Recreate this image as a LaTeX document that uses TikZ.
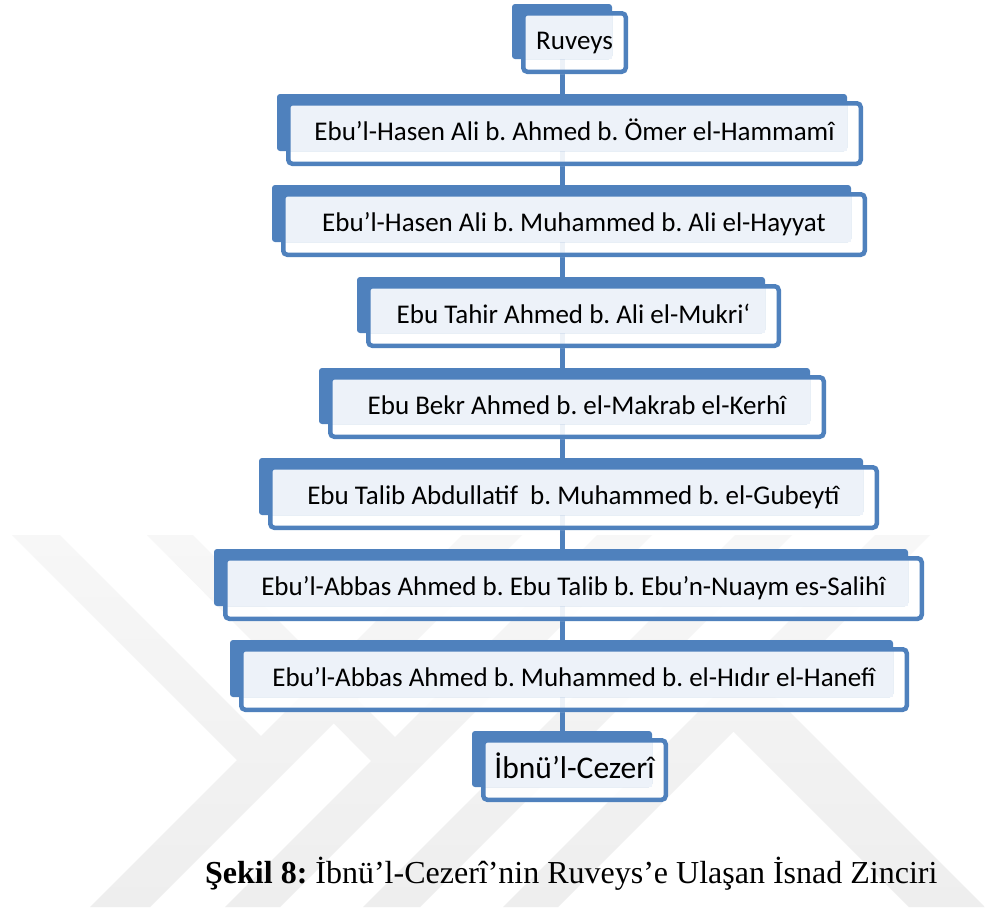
\documentclass[tikz,border=0pt]{standalone}
\usepackage{fontspec}
\setmainfont{Liberation Serif}
\newfontfamily\carlito{Carlito}
\frenchspacing
\definecolor{isblue}{HTML}{4F81BD}
\definecolor{islight}{HTML}{EDF2F9}
\definecolor{wmtop}{HTML}{F7F7F7}
\definecolor{wmbottom}{HTML}{EEEEEE}
\pgfdeclarelayer{wm}
\pgfdeclarelayer{conn}
\pgfsetlayers{wm,conn,main}
\tikzset{
  connline/.style={draw=isblue, line width=5},
  captiontext/.style={font=\fontsize{32}{36}\selectfont, anchor=base west, inner sep=0}
}
% #1 font size, #2 name, #3 X0, #4 Y0, #5 X1, #6 Y1, #7 text
\newcommand\isnadbox[7][27]{%
  \pgfmathsetmacro\fx{#3+9}\pgfmathsetmacro\fy{#4+7}%
  \pgfmathsetmacro\bx{#5-16}\pgfmathsetmacro\by{#6-15}%
  \pgfmathsetmacro\th{0.54*#1}%
  \fill[white, fill opacity=.9, rounded corners=5] (\fx,\fy) rectangle (#5,#6);
  \fill[isblue, rounded corners=3] (#3,#4) rectangle (\bx,\by);
  \fill[islight] (#3+11,#4+10) rectangle (\bx,\by);
  \draw[isblue, line width=4.5, rounded corners=4] (\fx+2.25,\fy+2.25) rectangle (#5-2.25,#6-2.25);
  \node[font=\carlito\fontsize{#1}{#1}\selectfont, text height=\th pt, text depth=0pt, inner sep=0] (#2) at ({(\fx+#5)/2},{(\fy+#6)/2}) {#7};
}
\begin{document}
\begin{tikzpicture}[x=1pt,y=-1pt]
\useasboundingbox (0,0) rectangle (985,916);
\begin{pgfonlayer}{wm}
  \fill[white] (0,0) rectangle (985,916);
  \begin{scope}
    \clip (90,907) -- (150,907) -- (522,535) -- (462,535) -- cycle
          (246,769) -- (270,745) -- (60,535) -- (12,535) -- cycle
          (225,907) -- (280,907) -- (652,535) -- (597,535) -- cycle
          (379,769) -- (403,745) -- (193,535) -- (147,535) -- cycle
          (363,907) -- (420,907) -- (792,535) -- (735,535) -- cycle
          (503,907) -- (558,907) -- (930,535) -- (875,535) -- cycle
          (771,693) -- (733,731) -- (909,907) -- (985,907) -- cycle;
    \shade[top color=wmtop, bottom color=wmbottom] (0,535) rectangle (985,907);
  \end{scope}
\end{pgfonlayer}
\coordinate (spine) at (562,0);
\isnadbox{b1}{512}{4}{628}{74}{Ruveys}
\isnadbox{b2}{277}{94}{863}{166}{Ebu’l-Hasen Ali b. Ahmed b. Ömer el-Hammamî}
\isnadbox{b3}{272}{185}{867}{257}{Ebu’l-Hasen Ali b. Muhammed b. Ali el-Hayyat}
\isnadbox{b4}{357}{277}{781}{348}{Ebu Tahir Ahmed b. Ali el-Mukri‘}
\isnadbox{b5}{319}{368}{826}{439}{Ebu Bekr Ahmed b. el-Makrab el-Kerhî}
\isnadbox{b6}{259}{458}{879}{530}{Ebu Talib Abdullatif\ \ b. Muhammed b. el-Gubeytî}
\isnadbox{b7}{214}{549}{924}{621}{Ebu’l-Abbas Ahmed b. Ebu Talib b. Ebu’n-Nuaym es-Salihî}
\isnadbox{b8}{230}{640}{909}{712}{Ebu’l-Abbas Ahmed b. Muhammed b. el-Hıdır el-Hanefî}
\isnadbox[31.5]{b9}{472}{731}{668}{802}{İbnü’l-Cezerî}
\begin{pgfonlayer}{conn}
  \foreach \a/\b in {b1/b2,b2/b3,b3/b4,b4/b5,b5/b6,b6/b7,b7/b8,b8/b9}
    \draw[connline] (\a.center -| spine) -- (\b.center -| spine);
\end{pgfonlayer}
\node[captiontext] (cap) at (205,883) {\textbf{Şekil 8:} İbnü’l-Cezerî’nin Ruveys’e Ulaşan İsnad Zinciri};
\end{tikzpicture}
\end{document}
